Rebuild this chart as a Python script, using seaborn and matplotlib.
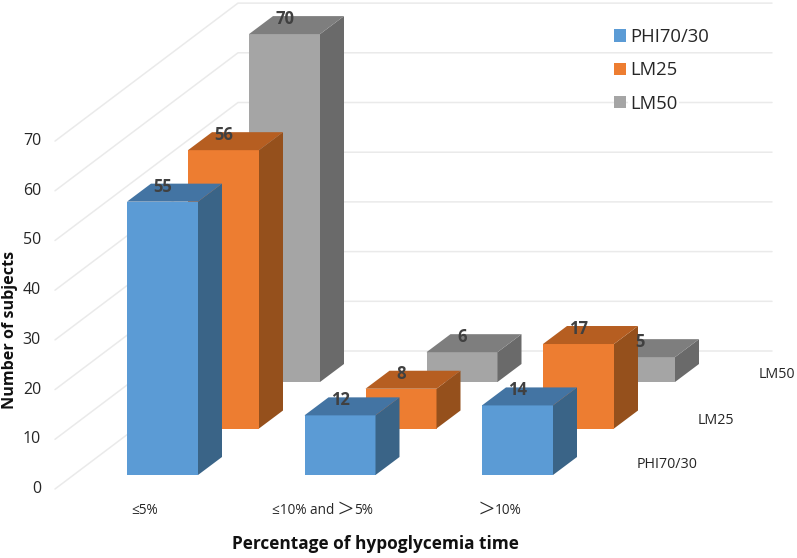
import matplotlib
matplotlib.use('Agg')
import matplotlib.pyplot as plt
import numpy as np
import seaborn as sns

# ── Data ──────────────────────────────────────────────────────────────────────
categories = ["≤5%", "≤10% and >5%", ">10%"]
series_names = ["PHI70/30", "LM25", "LM50"]
phi_values = [55, 12, 14]
lm25_values = [56, 8, 17]
lm50_values = [70, 6, 5]
y_ticks = [0, 10, 20, 30, 40, 50, 60, 70]

front_colors = ["#5B9BD5", "#ED7D31", "#A5A5A5"]
top_colors = ["#4374A3", "#B65E21", "#7E7E7E"]
side_colors = ["#3A6487", "#95501C", "#6A6A6A"]
INK = "#262626"
LABEL_INK = "#404040"
GRID = "#EAEAEA"

# ── Oblique projection, all expressed in picture pixels ───────────────────────
W, H = 797, 558
CAT_PX, UNIT_PX = 177.5, 4.97
X0_PX, Y0_PX = 162.5, 475.0


def px_x(px):
    return (px - X0_PX) / CAT_PX


def px_y(px):
    return (Y0_PX - px) / UNIT_PX


SERIES_DX, SERIES_DY = 61 / CAT_PX, 46.5 / UNIT_PX
DEPTH_DX, DEPTH_DY = 24 / CAT_PX, 18 / UNIT_PX
BAR_W = 71 / CAT_PX

sns.set_theme(style="white")
plt.rcParams['font.family'] = ['Open Sans', 'DejaVu Sans']

fig = plt.figure(figsize=(W / 100, H / 100), dpi=100)
ax = fig.add_axes([0, 0, 1, 1])

# back wall and floor lines
for v in y_ticks:
    ax.plot([px_x(55), px_x(238), px_x(772)],
            [v + px_y(489), v + px_y(351), v + px_y(351)],
            color=GRID, lw=1.1, zorder=0.5, solid_joinstyle="miter")
    ax.text(px_x(41), v + px_y(489), str(v), ha="right", va="center",
            fontsize=11.5, color=INK)

# bars, back series first so that the front ones cover them
all_values = [phi_values, lm25_values, lm50_values]
for s in [2, 1, 0]:
    vals = np.array(all_values[s], dtype=float)
    pos = np.arange(len(categories)) + s * SERIES_DX
    base = s * SERIES_DY
    sns.barplot(x=pos, y=vals, bottom=base, native_scale=True, width=BAR_W,
                color=front_colors[s], saturation=1, linewidth=0,
                label=series_names[s], ax=ax)
    for p, v in zip(pos, vals):
        r = p + BAR_W / 2
        l = p - BAR_W / 2
        top = base + v
        ax.fill([r, r + DEPTH_DX, r + DEPTH_DX, r],
                [base, base + DEPTH_DY, top + DEPTH_DY, top],
                color=side_colors[s], lw=0)
        ax.fill([l, l + DEPTH_DX, r + DEPTH_DX, r],
                [top, top + DEPTH_DY, top + DEPTH_DY, top],
                color=top_colors[s], lw=0)
        ax.text(p, top + 15 / UNIT_PX, f"{v:.0f}", ha="center", va="center",
                fontsize=12, fontweight="bold", color=LABEL_INK, zorder=5)

ax.set_xlim(px_x(0), px_x(W))
ax.set_ylim(px_y(H), px_y(0))
ax.set_xlabel("")
ax.set_ylabel("")
ax.set_xticks([])
ax.set_yticks([])
ax.grid(False)
sns.despine(ax=ax, left=True, bottom=True)

# category labels, the ">" is set larger in the source
cat_kw = dict(ha="left", va="center", fontsize=9.8, color=INK)
big_kw = dict(ha="center", va="center", fontsize=20, fontweight="light", color=INK)
ax.text(px_x(131), px_y(510), "≤5%", **cat_kw)
ax.text(px_x(272), px_y(510), "≤10% and", **cat_kw)
ax.text(px_x(345), px_y(511), ">", **big_kw)
ax.text(px_x(354), px_y(510), "5%", **cat_kw)
ax.text(px_x(486), px_y(511), ">", **big_kw)
ax.text(px_x(495), px_y(510), "10%", **cat_kw)

# series names along the depth axis
for name, x, y in zip(series_names, [637, 698, 759], [465, 420, 374.5]):
    ax.text(px_x(x), px_y(y), name, ha="left", va="center", fontsize=10.3, color=INK)

ax.text(px_x(375.5), px_y(544), "Percentage of hypoglycemia time", ha="center",
        va="center", fontsize=12.4, fontweight="bold", color="#111111")
ax.text(px_x(10), px_y(330), "Number of subjects", ha="center", va="center",
        rotation=90, fontsize=11.6, fontweight="bold", color="#111111")

handles, labels = ax.get_legend_handles_labels()
leg = ax.legend(handles[::-1], labels[::-1], loc="upper left",
                bbox_to_anchor=(614 / W, 1 - 28 / H), frameon=False,
                fontsize=13.3, handlelength=0.65, handleheight=0.65,
                handletextpad=0.22, labelspacing=0.83, borderpad=0,
                borderaxespad=0, labelcolor=INK)
for t in leg.get_texts():
    t.set_bbox(dict(fc="white", ec="none", pad=1.5))

fig.savefig("out.png", dpi=100)
plt.close(fig)
